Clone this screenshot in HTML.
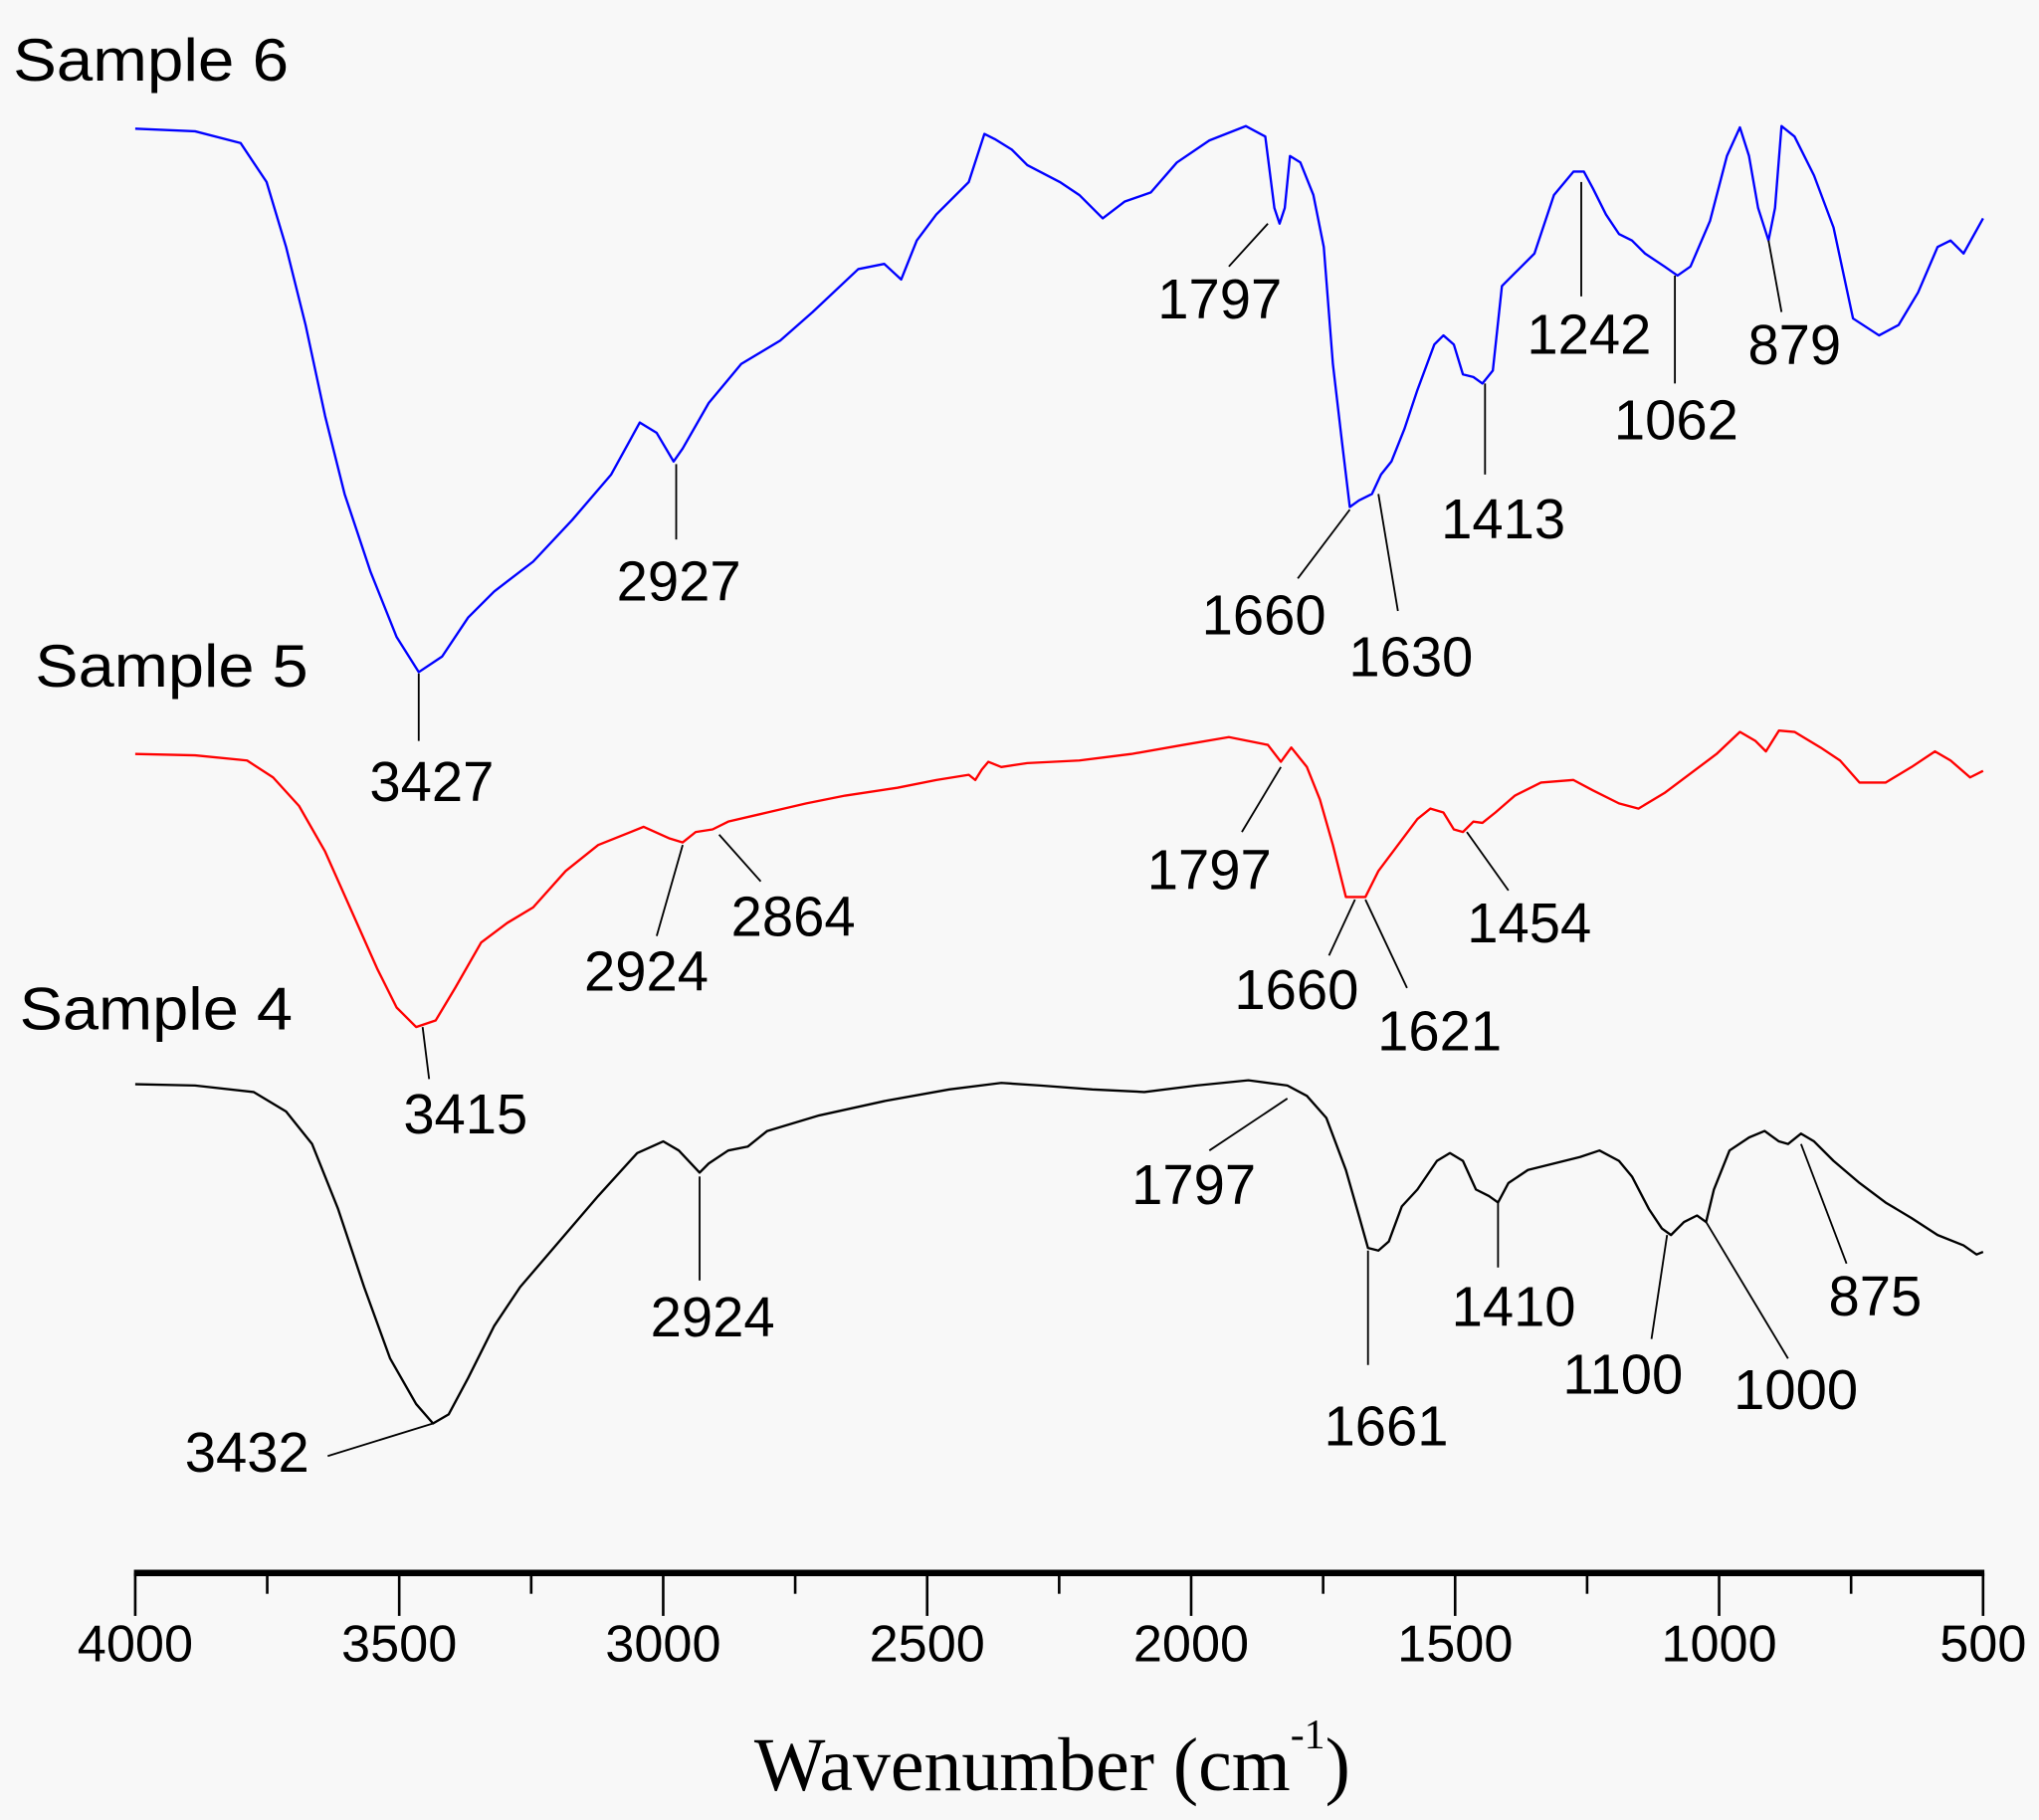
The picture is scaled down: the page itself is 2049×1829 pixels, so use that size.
<!DOCTYPE html>
<html><head><meta charset="utf-8"><style>html,body{margin:0;padding:0;background:#f8f8f8}svg{display:block}</style></head><body>
<svg width="2049" height="1829" viewBox="0 0 1568 1400" preserveAspectRatio="none" xmlns="http://www.w3.org/2000/svg">
<rect width="1568" height="1400" fill="#f8f8f8"/>
<g fill="none" stroke-width="1.8" stroke-linejoin="round">
<polyline stroke="#0000ff" points="104,99 150,101 185,110 205,140 220,190 235,250 250,320 265,380 285,440 305,490 322,517 340,505 360,475 380,455 410,432 440,400 470,365 492,325 505,333 518,355 525,345 545,310 570,280 600,262 625,240 660,207 680,203 693,215 705,185 720,165 745,140 757,103 765,107 778,115 790,127 815,140 830,150 848,168 865,155 885,148 905,125 930,108 958,97 973,105 980,160 984,172 988,160 992,120 1000,125 1010,150 1018,190 1025,280 1032,340 1038,390 1045,385 1055,380 1062,365 1070,355 1080,330 1090,300 1103,265 1110,258 1118,265 1125,288 1133,290 1140,295 1148,285 1155,220 1165,210 1180,195 1195,150 1210,132 1218,132 1225,145 1235,165 1245,180 1255,185 1265,195 1280,205 1290,212 1300,205 1315,170 1328,120 1338,98 1345,120 1352,160 1360,185 1365,160 1370,97 1380,105 1395,135 1410,175 1425,245 1445,258 1460,250 1475,225 1490,190 1500,185 1510,195 1525,168"/>
<polyline stroke="#ff0000" points="104,580 150,581 190,585 210,598 230,620 250,655 270,700 290,745 305,775 320,790 335,785 350,760 370,725 390,710 410,698 435,670 460,650 495,636 515,645 525,648 535,640 548,638 560,632 590,625 620,618 650,612 690,606 720,600 745,596 750,600 755,592 760,586 770,590 790,587 830,585 870,580 910,573 945,567 975,573 985,586 993,575 1005,590 1015,615 1025,650 1035,690 1042,690 1050,690 1060,670 1075,650 1090,630 1100,622 1110,625 1118,638 1125,640 1133,632 1140,633 1150,625 1165,612 1185,602 1210,600 1225,608 1245,618 1260,622 1280,610 1300,595 1320,580 1338,563 1350,570 1358,578 1368,562 1380,563 1400,575 1415,585 1430,602 1450,602 1470,590 1488,578 1500,585 1515,598 1525,593"/>
<polyline stroke="#000" points="104,834 150,835 195,840 220,855 240,880 260,930 280,990 300,1045 320,1080 333,1095 345,1088 360,1060 380,1020 400,990 430,955 460,920 490,887 510,878 522,885 538,902 545,895 560,885 575,882 590,870 630,858 680,847 730,838 770,833 800,835 840,838 880,840 920,835 960,831 990,835 1005,843 1020,860 1035,900 1045,935 1052,960 1060,962 1068,955 1078,928 1090,915 1105,893 1115,887 1125,893 1135,915 1145,920 1152,925 1160,910 1175,900 1195,895 1215,890 1230,885 1245,893 1255,905 1268,930 1278,945 1285,950 1295,940 1305,935 1312,940 1318,915 1330,885 1345,875 1357,870 1368,878 1375,880 1385,872 1395,878 1410,893 1430,910 1450,925 1470,937 1490,950 1510,958 1520,965 1525,963"/>
</g>
<g stroke="#000" stroke-width="1.4">
<line x1="322" y1="518" x2="322" y2="570"/>
<line x1="520" y1="357" x2="520" y2="415"/>
<line x1="975" y1="172" x2="945" y2="205"/>
<line x1="1038" y1="392" x2="998" y2="445"/>
<line x1="1060" y1="380" x2="1075" y2="470"/>
<line x1="1142" y1="295" x2="1142" y2="365"/>
<line x1="1216" y1="140" x2="1216" y2="228"/>
<line x1="1288" y1="212" x2="1288" y2="295"/>
<line x1="1360" y1="185" x2="1370" y2="240"/>
<line x1="325" y1="790" x2="330" y2="830"/>
<line x1="525" y1="650" x2="505" y2="720"/>
<line x1="553" y1="642" x2="585" y2="678"/>
<line x1="985" y1="590" x2="955" y2="640"/>
<line x1="1042" y1="692" x2="1022" y2="735"/>
<line x1="1050" y1="692" x2="1082" y2="760"/>
<line x1="1128" y1="640" x2="1160" y2="685"/>
<line x1="333" y1="1095" x2="252" y2="1120"/>
<line x1="538" y1="905" x2="538" y2="985"/>
<line x1="990" y1="845" x2="930" y2="885"/>
<line x1="1052" y1="962" x2="1052" y2="1050"/>
<line x1="1152" y1="925" x2="1152" y2="975"/>
<line x1="1282" y1="950" x2="1270" y2="1030"/>
<line x1="1312" y1="940" x2="1375" y2="1045"/>
<line x1="1385" y1="880" x2="1420" y2="972"/>
</g>
<g font-family="Liberation Sans, sans-serif" font-size="46" fill="#000">
<text x="10" y="62" textLength="212" lengthAdjust="spacingAndGlyphs">Sample 6</text>
<text x="27" y="528" textLength="210" lengthAdjust="spacingAndGlyphs">Sample 5</text>
<text x="15" y="792" textLength="210" lengthAdjust="spacingAndGlyphs">Sample 4</text>
</g>
<g font-family="Liberation Sans, sans-serif" font-size="43" fill="#000" text-anchor="middle">
<text x="332" y="616">3427</text><text x="522" y="462">2927</text><text x="938" y="245">1797</text>
<text x="972" y="488">1660</text><text x="1085" y="520">1630</text><text x="1156" y="414">1413</text>
<text x="1222" y="272">1242</text><text x="1289" y="338">1062</text><text x="1380" y="280">879</text>
<text x="358" y="872">3415</text><text x="497" y="762">2924</text><text x="610" y="720">2864</text>
<text x="930" y="684">1797</text><text x="997" y="776">1660</text><text x="1107" y="808">1621</text>
<text x="1176" y="725">1454</text>
<text x="190" y="1132">3432</text><text x="548" y="1028">2924</text><text x="918" y="926">1797</text>
<text x="1066" y="1112">1661</text><text x="1164" y="1020">1410</text><text x="1248" y="1072">1100</text>
<text x="1381" y="1084">1000</text><text x="1442" y="1012">875</text>
</g>
<g stroke="#000">
<line x1="103" y1="1210" x2="1526" y2="1210" stroke-width="5"/>
<g stroke-width="2">
<line x1="104" y1="1210" x2="104" y2="1243"/><line x1="205.5" y1="1210" x2="205.5" y2="1226"/>
<line x1="307" y1="1210" x2="307" y2="1243"/><line x1="408.5" y1="1210" x2="408.5" y2="1226"/>
<line x1="510" y1="1210" x2="510" y2="1243"/><line x1="611.5" y1="1210" x2="611.5" y2="1226"/>
<line x1="713" y1="1210" x2="713" y2="1243"/><line x1="814.5" y1="1210" x2="814.5" y2="1226"/>
<line x1="916" y1="1210" x2="916" y2="1243"/><line x1="1017.5" y1="1210" x2="1017.5" y2="1226"/>
<line x1="1119" y1="1210" x2="1119" y2="1243"/><line x1="1220.5" y1="1210" x2="1220.5" y2="1226"/>
<line x1="1322" y1="1210" x2="1322" y2="1243"/><line x1="1423.5" y1="1210" x2="1423.5" y2="1226"/>
<line x1="1525" y1="1210" x2="1525" y2="1243"/>
</g></g>
<g font-family="Liberation Sans, sans-serif" font-size="40" fill="#000" text-anchor="middle">
<text x="104" y="1278">4000</text><text x="307" y="1278">3500</text><text x="510" y="1278">3000</text>
<text x="713" y="1278">2500</text><text x="916" y="1278">2000</text><text x="1119" y="1278">1500</text>
<text x="1322" y="1278">1000</text><text x="1525" y="1278">500</text>
</g>
<text x="580" y="1377" font-family="Liberation Serif, serif" font-size="58" fill="#000">Wavenumber (cm<tspan font-size="32" dy="-32">-1</tspan><tspan dy="32">)</tspan></text>
</svg>
</body></html>
